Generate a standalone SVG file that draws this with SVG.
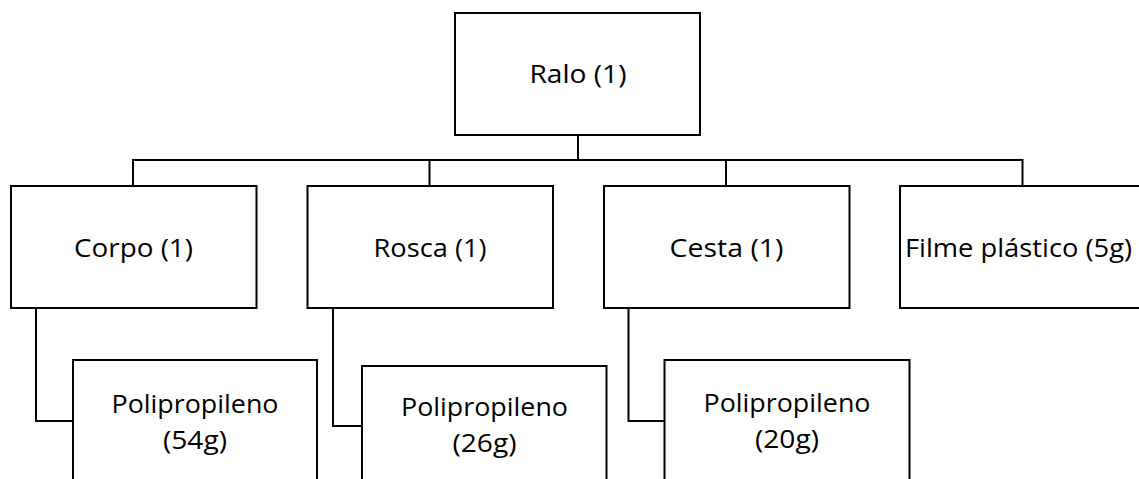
<svg xmlns="http://www.w3.org/2000/svg" width="1139" height="479" viewBox="0 0 1139 479">
<style>
.box{fill:#fff;stroke:#000;stroke-width:2}
.ln{fill:none;stroke:#000;stroke-width:2}
.t{font-family:"Open Sans","Noto Sans",sans-serif;font-size:26px;fill:#000;text-anchor:middle}
</style>
<rect width="1139" height="479" fill="#fff"/>
<g id="connectors">
<path class="ln" d="M578 135V160M133 186V160H1022.5V186M429.5 160V186M726 160V186"/>
<path class="ln" d="M36 308V421H73"/>
<path class="ln" d="M333 308V426H362"/>
<path class="ln" d="M628.5 308V421H664.5"/>
</g>
<g id="ralo"><rect class="box" x="455" y="13" width="245" height="122"/><text class="t" x="578" y="83" textLength="97" lengthAdjust="spacingAndGlyphs">Ralo (1)</text></g>
<g id="corpo"><rect class="box" x="11" y="186" width="245.5" height="122"/><text class="t" x="133.5" y="257" textLength="119" lengthAdjust="spacingAndGlyphs">Corpo (1)</text></g>
<g id="rosca"><rect class="box" x="307.5" y="186" width="245.5" height="122"/><text class="t" x="430" y="257" textLength="113" lengthAdjust="spacingAndGlyphs">Rosca (1)</text></g>
<g id="cesta"><rect class="box" x="604" y="186" width="245.5" height="122"/><text class="t" x="726.5" y="257" textLength="114" lengthAdjust="spacingAndGlyphs">Cesta (1)</text></g>
<g id="filme"><rect class="box" x="900" y="186" width="245.5" height="122"/><text class="t" x="1018.5" y="257" textLength="227" lengthAdjust="spacingAndGlyphs">Filme plástico (5g)</text></g>
<g id="pp-corpo"><rect class="box" x="73" y="360" width="244" height="130"/><text class="t" x="195" y="412.5" textLength="167" lengthAdjust="spacingAndGlyphs">Polipropileno</text><text class="t" x="195" y="449" textLength="64" lengthAdjust="spacingAndGlyphs">(54g)</text></g>
<g id="pp-rosca"><rect class="box" x="362" y="366" width="244.5" height="130"/><text class="t" x="484.5" y="416" textLength="167" lengthAdjust="spacingAndGlyphs">Polipropileno</text><text class="t" x="484.5" y="451.5" textLength="64" lengthAdjust="spacingAndGlyphs">(26g)</text></g>
<g id="pp-cesta"><rect class="box" x="664.5" y="360" width="245" height="130"/><text class="t" x="787" y="412" textLength="167" lengthAdjust="spacingAndGlyphs">Polipropileno</text><text class="t" x="787" y="448" textLength="64" lengthAdjust="spacingAndGlyphs">(20g)</text></g>
</svg>
